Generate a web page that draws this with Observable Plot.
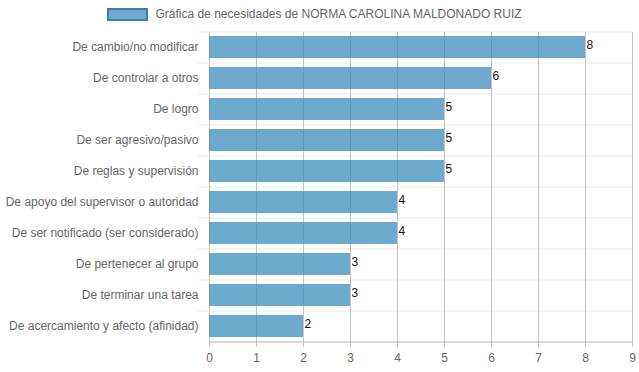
<!DOCTYPE html>
<html>
<head>
<meta charset="utf-8">
<script src="https://cdn.jsdelivr.net/npm/d3@7"></script>
<script src="https://cdn.jsdelivr.net/npm/@observablehq/plot@0.6"></script>
<style>
  body { margin: 0; background: #fff; font-family: "Liberation Sans", Arial, sans-serif; }
  #legend { height: 30px; display: flex; justify-content: center; align-items: flex-start; color: #666; font-size: 12px; padding-right: 10px; }
  #legend .box { width: 37px; height: 9px; margin-top: 8px; background: rgba(60,141,188,0.75); border: 2px solid #3c7fac; }
  #legend .lbl { margin-left: 7px; margin-top: 7px; line-height: 14px; }
</style>
</head>
<body>
<div id="legend"><span class="box"></span><span class="lbl" id="legendText"></span></div>
<div id="chart"></div>
<script>
const seriesName = "Gráfica de necesidades de NORMA CAROLINA MALDONADO RUIZ";
const categories = [
  "De cambio/no modificar",
  "De controlar a otros",
  "De logro",
  "De ser agresivo/pasivo",
  "De reglas y supervisión",
  "De apoyo del supervisor o autoridad",
  "De ser notificado (ser considerado)",
  "De pertenecer al grupo",
  "De terminar una tarea",
  "De acercamiento y afecto (afinidad)"
];
const values = [8, 6, 5, 5, 5, 4, 4, 3, 3, 2];
const xTicks = [0, 1, 2, 3, 4, 5, 6, 7, 8, 9];

document.getElementById("legendText").textContent = seriesName;

const data = categories.map((c, i) => ({category: c, value: values[i]}));
const step = 31;

const chart = Plot.plot({
  width: 639,
  height: 342,
  marginLeft: 209,
  marginRight: 7,
  marginTop: 2,
  marginBottom: 30,
  style: {fontFamily: "'Liberation Sans', Arial, sans-serif", fontSize: "12px", color: "#666", background: "#fff"},
  x: {domain: [0, 9], ticks: xTicks},
  y: {domain: categories, paddingInner: 0.29, paddingOuter: 0.145, label: null},
  marks: [
    Plot.ruleY(categories, {dy: -step / 2, stroke: "#ebebeb", insetLeft: -11}),
    Plot.ruleX(xTicks, {stroke: "#c4c4c4", insetBottom: -5}),
    Plot.barX(data, {x: "value", y: "category", fill: "rgba(60,141,188,0.75)"}),
    Plot.ruleY([categories[categories.length - 1]], {dy: step / 2, stroke: "#b0b0b0"}),
    Plot.text(data, {x: "value", y: "category", text: d => String(d.value), textAnchor: "start", dx: 1, dy: -2, fill: "#111", fontSize: 12}),
    Plot.axisX({ticks: xTicks, tickSize: 0, tickPadding: 11, label: null, fontSize: 12, tickFormat: d => String(d)}),
    Plot.axisY({tickSize: 0, tickPadding: 11, label: null, fontSize: 12})
  ]
});
document.getElementById("chart").appendChild(chart);
</script>
</body>
</html>
